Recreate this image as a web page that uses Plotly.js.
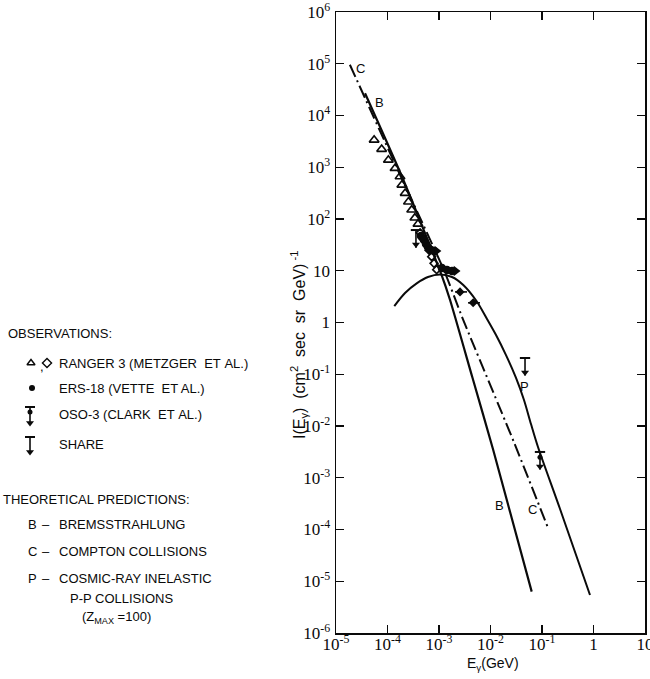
<!DOCTYPE html>
<html><head><meta charset="utf-8">
<script src="https://cdn.plot.ly/plotly-3.0.1.min.js"></script>
<style>html,body{margin:0;padding:0;background:#fff}</style>
</head><body>
<div id="chart" style="width:650px;height:679px"></div>
<script>
// ---- Data: energy E in GeV, intensity I in (cm^2 sec sr GeV)^-1 ----
const xTickVals = [1e-5, 1e-4, 1e-3, 1e-2, 1e-1, 1, 10];
const xTickText = ['10<sup>-5</sup>', '10<sup>-4</sup>', '10<sup>-3</sup>', '10<sup>-2</sup>', '10<sup>-1</sup>', '1', '10'];
const yTickVals = [1e-6, 1e-5, 1e-4, 1e-3, 1e-2, 1e-1, 1, 10, 1e2, 1e3, 1e4, 1e5, 1e6];
const yTickText = ['10<sup>-6</sup>', '10<sup>-5</sup>', '10<sup>-4</sup>', '10<sup>-3</sup>', '10<sup>-2</sup>', '10<sup>-1</sup>', '1', '10', '10<sup>2</sup>', '10<sup>3</sup>', '10<sup>4</sup>', '10<sup>5</sup>', '10<sup>6</sup>'];

// Theoretical curves
const comptonE = [1.86e-5, 1.58e-4, 1.26e-3, 2.82e-3, 2.82e-2, 0.132];
const comptonI = [9.55e4, 891, 10.0, 1.26, 5.0e-3, 1.05e-4];

const bremsE = [3.66e-5, 1.905e-4, 1.12e-3, 1.64e-3, 4.47e-3, 1.13e-2, 0.0631];
const bremsI = [2.69e4, 661, 8.32, 2.72, 0.0853, 3.44e-3, 6.3e-6];

const ppE = [1.355e-4, 2.19e-4, 3.69e-4, 6.11e-4, 1.045e-3, 1.786e-3, 2.96e-3, 5.35e-3, 8.55e-3, 1.28e-2, 2.00e-2, 3.13e-2, 4.47e-2, 6.11e-2, 8.36e-2, 0.224, 0.855];
const ppI = [2.08, 3.72, 5.71, 7.57, 8.47, 7.57, 5.31, 2.60, 1.17, 0.573, 0.235, 0.0847, 0.0318, 0.01093, 3.93e-3, 2.49e-4, 5.42e-6];

// Observations
const rangerTriE = [5.5e-5, 7.7e-5, 1.04e-4, 1.4e-4, 1.75e-4, 1.9e-4, 2.2e-4, 2.55e-4, 2.95e-4, 3.4e-4, 3.9e-4];
const rangerTriI = [3370, 2230, 1380, 955, 660, 455, 315, 215, 150, 105, 80];
const rangerDiaE = [4.3e-4, 5.0e-4, 6.4e-4, 7.2e-4, 8.0e-4, 9.0e-4];
const rangerDiaI = [54, 40, 25, 18.7, 13.9, 10.5];

const ersE = [4.47e-4, 5.12e-4, 5.6e-4, 6.1e-4, 7.0e-4, 8.0e-4, 1.14e-3, 1.43e-3, 1.79e-3];
const ersI = [46.9, 39.3, 32.9, 28.8, 25.2, 24.1, 11.3, 10.3, 9.9];
const ersArrowE = [9.1e-4, 2.14e-3];
const ersArrowI = [24.1, 9.9];

const osoE = [2.56e-3, 4.6e-3];
const osoElo = [2.05e-3, 3.66e-3];
const osoEhi = [3.5e-3, 6.25e-3];
const osoI = [3.9, 2.4];

const osoLimE = [0.0914];
const osoLimI = [3.15e-3];
const shareLimE = [3.57e-4, 0.0468];
const shareLimI = [61.2, 0.206];

// ---- Styling ----
const INK = '#0a0a0a';
const traces = [];
const line = (x, y, extra) => Object.assign({x, y, mode: 'lines', type: 'scatter', hoverinfo: 'skip',
  line: {color: INK, width: 2}}, extra || {});

traces.push(line(comptonE, comptonI, {line: {color: INK, width: 2, dash: '13px,4px,2px,4px', shape: 'spline', smoothing: 0.6}}));
traces.push(line(bremsE, bremsI, {line: {color: INK, width: 2.2, shape: 'spline', smoothing: 0.6}}));
traces.push(line(ppE, ppI, {line: {color: INK, width: 2, shape: 'spline', smoothing: 0.8}}));

traces.push({x: rangerTriE, y: rangerTriI, mode: 'markers', type: 'scatter', hoverinfo: 'skip',
  marker: {symbol: 'triangle-up-open', size: 8.5, color: INK, line: {width: 1.6, color: INK}}});
traces.push({x: rangerDiaE, y: rangerDiaI, mode: 'markers', type: 'scatter', hoverinfo: 'skip',
  marker: {symbol: 'diamond-open', size: 6, color: INK, line: {width: 1.6, color: INK}}});
traces.push({x: ersE, y: ersI, mode: 'markers', type: 'scatter', hoverinfo: 'skip',
  marker: {symbol: 'circle', size: 8.5, color: INK}});
traces.push({x: ersArrowE, y: ersArrowI, mode: 'markers', type: 'scatter', hoverinfo: 'skip',
  marker: {symbol: 'triangle-right', size: 9, color: INK}});
traces.push({x: osoE, y: osoI, mode: 'markers', type: 'scatter', hoverinfo: 'skip',
  marker: {symbol: 'diamond', size: 7, color: INK},
  error_x: {type: 'data', symmetric: false,
    array: osoE.map((e, i) => osoEhi[i] - e), arrayminus: osoE.map((e, i) => e - osoElo[i]),
    color: INK, thickness: 1.6, width: 0}});

// Upper-limit "T with arrow" symbols
const HW = Math.pow(10, 0.1), STEM = Math.pow(10, 0.34), HEAD = Math.pow(10, 0.28);
function upperLimits(E, I, withDot) {
  E.forEach((e, i) => {
    const v = I[i];
    traces.push(line([e / HW, e * HW], [v, v], {line: {color: INK, width: 2}}));
    traces.push(line([e, e], [v, v / STEM], {line: {color: INK, width: 1.6}}));
    traces.push({x: [e], y: [v / HEAD], mode: 'markers', type: 'scatter', hoverinfo: 'skip',
      marker: {symbol: 'triangle-down', size: 7, color: INK}});
    if (withDot) traces.push({x: [e], y: [v / Math.pow(10, 0.1)], mode: 'markers', type: 'scatter', hoverinfo: 'skip',
      marker: {symbol: 'circle', size: 5, color: INK}});
  });
}
upperLimits(shareLimE, shareLimI, false);
upperLimits(osoLimE, osoLimI, true);

// ---- Legend glyphs (pixel-unit helper axes x2/y2) ----
const g = (x, y, extra) => Object.assign({x, y, xaxis: 'x2', yaxis: 'y2', type: 'scatter', hoverinfo: 'skip'}, extra);
traces.push(g([31], [363], {mode: 'markers', marker: {symbol: 'triangle-up-open', size: 7, color: INK, line: {width: 1.4, color: INK}}}));
traces.push(g([47], [363], {mode: 'markers', marker: {symbol: 'diamond-open', size: 7, color: INK, line: {width: 1.4, color: INK}}}));
traces.push(g([32], [388], {mode: 'markers', marker: {symbol: 'circle', size: 6, color: INK}}));
// OSO-3 glyph
traces.push(g([25, 35], [407, 407], {mode: 'lines', line: {color: INK, width: 2}}));
traces.push(g([30, 30], [407, 424], {mode: 'lines', line: {color: INK, width: 1.6}}));
traces.push(g([30], [412], {mode: 'markers', marker: {symbol: 'circle', size: 5, color: INK}}));
traces.push(g([30], [423], {mode: 'markers', marker: {symbol: 'triangle-down', size: 7, color: INK}}));
// SHARE glyph
traces.push(g([25, 35], [437, 437], {mode: 'lines', line: {color: INK, width: 2}}));
traces.push(g([30, 30], [437, 453], {mode: 'lines', line: {color: INK, width: 1.6}}));
traces.push(g([30], [452], {mode: 'markers', marker: {symbol: 'triangle-down', size: 7, color: INK}}));

// ---- Annotations ----
const SANS = 'Liberation Sans, Arial, Helvetica, sans-serif';
const NB = '\u00a0';
const txt = (x, y, text, extra) => Object.assign({xref: 'x2', yref: 'y2', x, y, text, showarrow: false,
  xanchor: 'left', yanchor: 'middle', font: {family: SANS, size: 13, color: INK}}, extra || {});
const lab = (x, y, text) => ({xref: 'x', yref: 'y', x, y, text, showarrow: false, xanchor: 'center', yanchor: 'middle',
  font: {family: SANS, size: 13, color: INK}});
const annotations = [
  txt(6, 333, 'OBSERVATIONS:'),
  txt(38, 366, ','),
  txt(57, 363, 'RANGER 3 (METZGER' + NB + NB + 'ET' + NB + 'AL.)'),
  txt(57, 388, 'ERS-18 (VETTE' + NB + NB + 'ET AL.)'),
  txt(57, 414, 'OSO-3 (CLARK' + NB + NB + 'ET' + NB + 'AL.)'),
  txt(57, 444, 'SHARE'),
  txt(1, 499, 'THEORETICAL PREDICTIONS:'),
  txt(26, 524, 'B'), txt(40, 524, '–'), txt(57, 524, 'BREMSSTRAHLUNG'),
  txt(26, 551, 'C'), txt(40, 551, '–'), txt(57, 551, 'COMPTON COLLISIONS'),
  txt(26, 578, 'P'), txt(40, 578, '–'), txt(57, 578, 'COSMIC-RAY INELASTIC'),
  txt(68, 598, 'P-P COLLISIONS'),
  txt(80, 617, '(Z<sub>MAX</sub>' + NB + '=100)'),
  // curve labels (log10 data units)
  lab(-4.534, 4.899, 'C'),
  lab(-4.151, 4.245, 'B'),
  lab(-1.343, -1.240, 'P'),
  lab(-1.816, -3.527, 'B'),
  lab(-1.184, -3.604, 'C'),
  // axis titles
  {xref: 'paper', yref: 'paper', x: 299 / 650, y: 1 - 345 / 679, xanchor: 'center', yanchor: 'middle',
    textangle: -90, showarrow: false,
    text: 'I(E<sub>γ</sub>)' + NB + NB + '(cm<sup>2</sup>' + NB + NB + 'sec' + NB + NB + 'sr' + NB + NB + 'GeV)<sup>' + NB + '-1</sup>',
    font: {family: SANS, size: 16, color: INK}},
  {xref: 'paper', yref: 'paper', x: 493 / 650, y: 1 - 664 / 679, xanchor: 'center', yanchor: 'middle', showarrow: false,
    text: 'E<sub>γ</sub>(GeV)', font: {family: SANS, size: 14, color: INK}}
];

const axisCommon = {type: 'log', ticks: 'inside', ticklen: 8, tickwidth: 1.3, tickcolor: INK,
  showline: true, linecolor: INK, linewidth: 1.5, mirror: 'ticks', showgrid: false, zeroline: false,
  ticklabeloverflow: 'allow',
  tickfont: {family: 'Liberation Serif, Times New Roman, serif', size: 17, color: INK}};

const layout = {
  width: 650, height: 679,
  margin: {l: 0, r: 0, t: 0, b: 0},
  paper_bgcolor: '#fff', plot_bgcolor: 'rgba(0,0,0,0)',
  showlegend: false,
  font: {family: SANS, size: 13, color: INK},
  xaxis: Object.assign({}, axisCommon, {range: [-5, 1], domain: [336 / 650, 645 / 650], anchor: 'y',
    tickvals: xTickVals, ticktext: xTickText, ticklabelstandoff: -5}),
  yaxis: Object.assign({}, axisCommon, {range: [-6, 6], domain: [46 / 679, 667 / 679], anchor: 'x',
    tickvals: yTickVals, ticktext: yTickText, ticklabelstandoff: 1}),
  xaxis2: {domain: [0, 0.5], range: [0, 325], visible: false, anchor: 'y2', fixedrange: true},
  yaxis2: {domain: [0, 1], range: [679, 0], visible: false, anchor: 'x2', fixedrange: true},
  annotations
};

Plotly.newPlot('chart', traces, layout, {displayModeBar: false, staticPlot: true});
</script>
</body></html>
